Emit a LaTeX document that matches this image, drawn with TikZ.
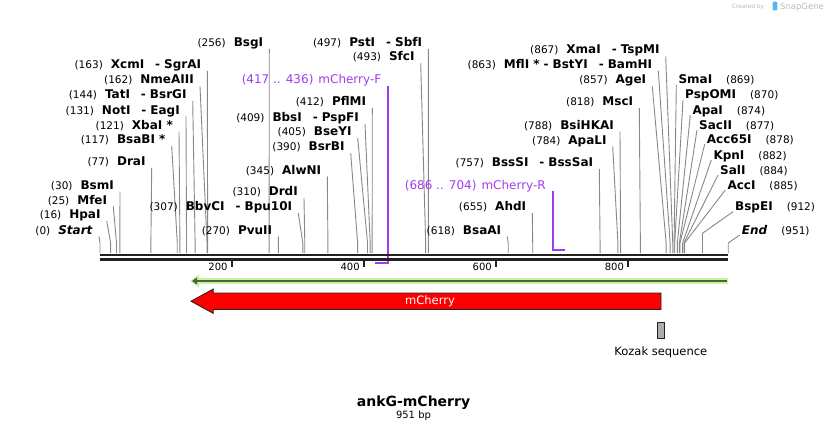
\documentclass[tikz,border=0pt]{standalone}
\usepackage{fontspec}
\setmainfont{DejaVu Sans}[ItalicFont={DejaVu Sans Oblique},BoldItalicFont={DejaVu Sans Bold Oblique}]
\usetikzlibrary{arrows.meta,positioning,calc}
\definecolor{mapblack}{RGB}{34,34,34}
\definecolor{leadgray}{RGB}{135,135,135}
\definecolor{primerpurple}{RGB}{160,60,240}
\definecolor{orfgreen}{RGB}{200,245,160}
\definecolor{orfdark}{RGB}{80,100,60}
\definecolor{featred}{RGB}{255,0,0}
\definecolor{kozakgray}{RGB}{170,173,178}
\definecolor{logogray}{RGB}{185,185,185}
\definecolor{logoblue}{RGB}{90,180,240}

\newcommand{\bpn}[1]{{\fontsize{10.5}{12}\selectfont\mdseries(#1)}}
\newcommand{\dsh}{\hspace{11pt}-\hspace{4pt}}

\tikzset{
  lbl/.style={inner sep=0pt, font=\fontsize{12}{14}\selectfont\bfseries},
  leader/.style={draw=leadgray, line width=0.9pt},
  mapline/.style={draw=mapblack, line width=2.3pt},
  tickmark/.style={draw=mapblack, line width=2pt},
  ruler/.style={inner sep=0pt, font=\fontsize{10}{12}\selectfont},
  primer/.style={inner sep=0pt, text=primerpurple, font=\fontsize{12}{14}\selectfont},
  primerline/.style={draw=primerpurple, line width=1.4pt},
}

\begin{document}
\begin{tikzpicture}[x=1pt,y=-1pt]
    \useasboundingbox (0,0) rectangle (829,433);

    % Created by SnapGene
    \node[inner sep=0pt, text=logogray, font=\fontsize{5.9}{7}\selectfont] (createdby) at (748,6.8) {Created by};
    \fill[logoblue, rounded corners=1pt] (772.7,1.7) rectangle (777.3,10.5);
    \node[inner sep=0pt, text=logogray, font=\fontsize{8.5}{10}\selectfont] (snapgene) at (802,6.8) {SnapGene};

    % Sites labelled on the left of their leader
    \foreach \nm/\p/\ex/\by/\txt in {
      XcmI/163/201.3/68.3/{XcmI\dsh SgrAI},
      NmeAIII/162/194/84/NmeAIII,
      TatI/144/186.7/98.3/{TatI\dsh BsrGI},
      NotI/131/180/114/{NotI\dsh EagI},
      XbaI/121/173/129/{XbaI *},
      BsaBI/117/165.7/143.3/{BsaBI *},
      DraI/77/145.7/165.7/DraI,
      BsmI/30/114/189/BsmI,
      MfeI/25/107.3/204/MfeI,
      HpaI/16/100.7/218.3/HpaI,
      Start/0/93/234/{\textit{Start}},
      BsgI/256/263.3/46.3/BsgI,
      PstI/497/422.3/46.3/{PstI\dsh SbfI},
      SfcI/493/414.7/60.7/SfcI,
      PflMI/412/366.3/105.7/PflMI,
      BbsI/409/359/121.3/{BbsI\dsh PspFI},
      BseYI/405/351.7/135.7/BseYI,
      BsrBI/390/344.7/150.7/BsrBI,
      AlwNI/345/321.3/174/AlwNI,
      DrdI/310/298/195.7/DrdI,
      BbvCI/307/292.3/210.7/{BbvCI\dsh Bpu10I},
      PvuII/270/272.3/234/PvuII,
      XmaI/867/659.7/54/{XmaI\dsh TspMI},
      MflI/863/652.3/68.3/{MflI *\hspace{4pt}-\hspace{4pt}BstYI\dsh BamHI},
      AgeI/857/646.3/84/AgeI,
      MscI/818/633.3/105.7/MscI,
      BsiHKAI/788/614/129/BsiHKAI,
      ApaLI/784/606.7/144/ApaLI,
      BssSI/757/593.3/166.3/{BssSI\dsh BssSaI},
      AhdI/655/526.3/210.7/AhdI,
      BsaAI/618/501.3/234/BsaAI}{
      \node[lbl, anchor=base east] (l\nm) at (\ex,\by) {\bpn{\p}\hspace{8pt}\txt};
      \coordinate (s\nm) at ({100+0.6606*\p},253);
      \draw[leader] ($(l\nm.base east)+(6,2.5)$) -- (s\nm |- 0,243) -- (s\nm);
    }

    % Sites labelled on the right of their leader
    \foreach \nm/\p/\bx/\by/\yb/\txt in {
      SmaI/869/678.3/84/243/SmaI,
      PspOMI/870/685/99/243/PspOMI,
      ApaI/874/692.3/114/243/ApaI,
      SacII/877/699/129/243/SacII,
      Acc65I/878/706.7/143.3/243/Acc65I,
      KpnI/882/713.3/159/243/KpnI,
      SalI/884/720/174/243/SalI,
      AccI/885/727.3/189/243/AccI,
      BspEI/912/735/210.7/233.3/BspEI,
      End/951/741.7/234/243/{\textit{End}}}{
      \node[lbl, anchor=base west] (l\nm) at (\bx,\by) {\txt\hspace{14pt}\bpn{\p}};
      \coordinate (s\nm) at ({100+0.6606*\p},253);
      \draw[leader] ($(l\nm.base west)+(-2,1)$) -- (s\nm |- 0,\yb) -- (s\nm);
    }

    % Primers
    \node[primer, anchor=base east] (pF) at (381.5,84) {(417 .. 436)\hspace{5pt}mCherry-F};
    \coordinate (f417) at ({100+0.6606*417},263);
    \coordinate (f436) at ({100+0.6606*436},263);
    \draw[primerline] ($(f436 |- pF.base)+(0,2)$) -- (f436) -- (f417);

    \node[primer, anchor=base east] (pR) at (546,189) {(686 .. 704)\hspace{5pt}mCherry-R};
    \coordinate (r686) at ({100+0.6606*686},250);
    \coordinate (r704) at ({100+0.6606*704},250);
    \draw[primerline] ($(r686 |- pR.base)+(0,2)$) -- (r686) -- (r704);

    % Map
    \coordinate (mapL) at (100,255.3);
    \coordinate (mapR) at (728.2,255.3);
    \draw[mapline] (mapL) -- (mapR);
    \draw[mapline] ($(mapL)+(0,4.2)$) -- ($(mapR)+(0,4.2)$);
    \foreach \t in {200,400,600,800} {
      \coordinate (t\t) at ({100+0.6606*\t},259);
      \draw[tickmark] (t\t) -- ++(0,8);
      \node[ruler, anchor=base east] (n\t) at ($(t\t)+(-4.4,11.3)$) {\t};
    }

    % Features
    \coordinate (orfR) at (728.3,281);
    \coordinate (orfL) at (190,281);
    \draw[orfgreen, line width=6.6pt, -{Triangle[length=9pt,width=12pt]}] (orfR) -- (orfL);
    \draw[orfdark, line width=1.6pt, -{Triangle[length=5pt,width=7pt]}] ($(orfR)+(-1,0)$) -- ($(orfL)+(2,0)$);

    \draw[draw=mapblack, line width=0.8pt, fill=featred] (661,293) -- (213.3,293) -- (213.3,289)
        -- (191,301.2) -- (213.3,313.4) -- (213.3,309.5) -- (661,309.5) -- cycle;
    \node[inner sep=0pt, text=white, font=\fontsize{11.5}{13}\selectfont] (mcherry) at (430,301) {mCherry};

    \node[draw=mapblack, fill=kozakgray, line width=0.8pt, minimum width=7pt, minimum height=16.4pt, inner sep=0pt] (kozak) at (660.8,330.5) {};
    \node[below=7pt of kozak, inner sep=0pt, font=\fontsize{11.5}{13}\selectfont] (kozaklbl) {Kozak sequence};

    % Title
    \node[inner sep=0pt, font=\fontsize{14}{16}\selectfont\bfseries] (title) at (413.5,402.5) {ankG-mCherry};
    \node[below=1pt of title, inner sep=0pt, font=\fontsize{10}{12}\selectfont] (size) {951 bp};
\end{tikzpicture}
\end{document}
